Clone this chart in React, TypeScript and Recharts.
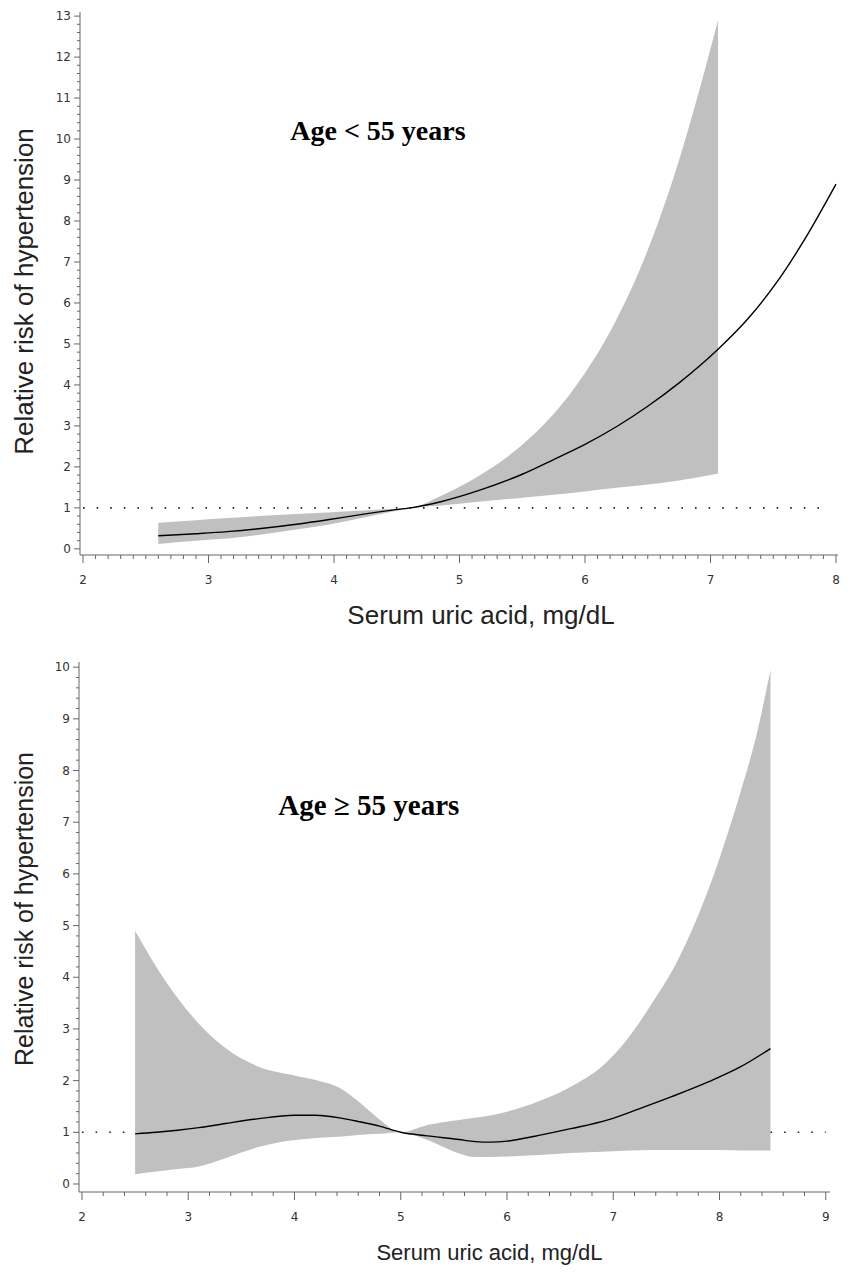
import { ComposedChart, Area, Line, XAxis, YAxis, ReferenceLine, ReferenceDot, Label } from 'recharts';

// Age < 55 years
const youngBandX = [2.6, 2.9, 3.15, 3.4, 3.7, 3.95, 4.2, 4.45, 4.61, 4.85, 5.15, 5.5, 5.75, 6.0, 6.25, 6.5, 6.75, 7.06];
const youngLow = [0.12, 0.2, 0.25, 0.34, 0.47, 0.59, 0.74, 0.9, 1.0, 1.06, 1.15, 1.25, 1.32, 1.4, 1.49, 1.57, 1.67, 1.84];
const youngHigh = [0.64, 0.7, 0.75, 0.8, 0.85, 0.89, 0.93, 0.97, 1.0, 1.29, 1.77, 2.54, 3.29, 4.29, 5.59, 7.29, 9.49, 12.9];
const youngLineX = [2.6, 2.9, 3.15, 3.4, 3.7, 3.95, 4.2, 4.45, 4.61, 4.85, 5.15, 5.5, 5.75, 6.0, 6.25, 6.5, 6.75, 7.06, 7.3, 7.55, 7.75, 8.0];
const youngLineY = [0.32, 0.37, 0.42, 0.49, 0.6, 0.71, 0.83, 0.94, 1.0, 1.15, 1.42, 1.82, 2.18, 2.55, 2.98, 3.48, 4.05, 4.87, 5.62, 6.6, 7.55, 8.9];

// Age >= 55 years
const oldBandX = [2.5, 2.7, 2.9, 3.1, 3.35, 3.65, 4.0, 4.2, 4.45, 4.6, 4.8, 5.0, 5.25, 5.55, 5.7, 6.0, 6.3, 6.6, 6.95, 7.15, 7.35, 7.6, 7.8, 8.0, 8.2, 8.35, 8.48];
const oldLow = [0.19, 0.24, 0.29, 0.34, 0.5, 0.71, 0.85, 0.89, 0.92, 0.95, 0.97, 1.0, 0.85, 0.59, 0.52, 0.53, 0.56, 0.6, 0.63, 0.65, 0.66, 0.66, 0.66, 0.66, 0.65, 0.65, 0.65];
const oldHigh = [4.9, 4.2, 3.6, 3.1, 2.63, 2.28, 2.1, 2.01, 1.83, 1.6, 1.25, 1.0, 1.14, 1.24, 1.28, 1.4, 1.6, 1.88, 2.38, 2.85, 3.45, 4.3, 5.2, 6.3, 7.6, 8.7, 9.95];
const oldLineX = [2.5, 2.7, 2.9, 3.1, 3.35, 3.65, 4.0, 4.2, 4.45, 4.6, 4.8, 5.0, 5.25, 5.55, 5.7, 5.85, 6.0, 6.15, 6.3, 6.6, 6.95, 7.25, 7.55, 7.9, 8.2, 8.48];
const oldLineY = [0.97, 1.0, 1.04, 1.09, 1.17, 1.26, 1.33, 1.33, 1.27, 1.21, 1.12, 1.0, 0.93, 0.86, 0.82, 0.81, 0.83, 0.88, 0.94, 1.07, 1.24, 1.46, 1.69, 1.98, 2.27, 2.62];

const youngXTicks = [2, 3, 4, 5, 6, 7, 8];
const youngYTicks = [0, 1, 2, 3, 4, 5, 6, 7, 8, 9, 10, 11, 12, 13];
const oldXTicks = [2, 3, 4, 5, 6, 7, 8, 9];
const oldYTicks = [0, 1, 2, 3, 4, 5, 6, 7, 8, 9, 10];

const yTitle = 'Relative risk of hypertension';
const xTitle = 'Serum uric acid, mg/dL';

// major ticks get a label, minor ones only a short mark
const withMinor = (major: number[], step: number) => {
  const out: number[] = [];
  const n = Math.round(1 / step);
  for (let i = 0; i < major.length - 1; i++) {
    for (let k = 0; k < n; k++) out.push(+(major[i] + k * step).toFixed(2));
  }
  out.push(major[major.length - 1]);
  return out;
};

const isMajor = (v: number) => Math.abs(v - Math.round(v)) < 1e-6;
const tickFont = { fontFamily: '"DejaVu Sans", sans-serif', fontSize: 12, fill: '#333' };
const titleFont = '"Liberation Sans", Arial, sans-serif';

const XTick = (props: any) => {
  const { x, y, payload } = props;
  const major = isMajor(payload.value);
  return (
    <g>
      <line x1={x} y1={y} x2={x} y2={y + (major ? 8 : 4)} stroke="#666" strokeWidth={1} />
      {major && (
        <text x={x} y={y + 29} textAnchor="middle" {...tickFont}>
          {Math.round(payload.value)}
        </text>
      )}
    </g>
  );
};

const YTick = (props: any) => {
  const { x, y, payload } = props;
  const major = isMajor(payload.value);
  return (
    <g>
      <line x1={x} y1={y} x2={x - (major ? 6 : 3)} y2={y} stroke="#666" strokeWidth={1} />
      {major && (
        <text x={x - 9} y={y + 4} textAnchor="end" {...tickFont}>
          {Math.round(payload.value)}
        </text>
      )}
    </g>
  );
};

const YTitle = ({ viewBox, shift, size }: any) => {
  const cx = 24;
  const cy = viewBox.y + viewBox.height / 2 + shift;
  return (
    <text x={cx} y={cy} transform={`rotate(-90 ${cx} ${cy})`} textAnchor="middle" dominantBaseline="central"
      fontFamily={titleFont} fontSize={size} fill="#222">
      {yTitle}
    </text>
  );
};

const XTitle = ({ viewBox, shift, size }: any) => (
  <text x={viewBox.x + viewBox.width / 2 + shift} y={viewBox.y + 60} textAnchor="middle" dominantBaseline="central"
    fontFamily={titleFont} fontSize={size} fill="#222">
    {xTitle}
  </text>
);

const Note = (text: string, size: number) => (props: any) => {
  const { viewBox } = props;
  return (
    <text x={viewBox.x + viewBox.width / 2} y={viewBox.y + viewBox.height / 2} textAnchor="middle" dominantBaseline="central"
      fontFamily='"Liberation Serif", "Times New Roman", serif' fontWeight="bold" fontSize={size} fill="#000">
      {text}
    </text>
  );
};

const band = (xs: number[], lo: number[], hi: number[]) => xs.map((x, i) => ({ x, range: [lo[i], hi[i]] }));
const curve = (xs: number[], ys: number[]) => xs.map((x, i) => ({ x, y: ys[i] }));

const dotted = { stroke: '#222', strokeWidth: 1.6, strokeDasharray: '1.6 12' };

export default function App() {
  return (
    <div style={{ position: 'absolute', left: 0, top: 0, width: 851, height: 1282, background: '#fff' }}>
      <ComposedChart width={851} height={640} margin={{ top: 12, right: 13, bottom: 0, left: 0 }}>
        <XAxis type="number" dataKey="x" domain={[1.976, 8.016]} ticks={withMinor(youngXTicks, 0.1)} interval={0}
          tick={<XTick />} tickSize={0} tickMargin={0} tickLine={false} axisLine={{ stroke: '#666' }} height={85} allowDataOverflow>
          <Label content={<XTitle shift={22} size={26} />} />
        </XAxis>
        <YAxis type="number" domain={[-0.15, 13.1]} ticks={withMinor(youngYTicks, 0.2)} interval={0}
          tick={<YTick />} tickSize={0} tickMargin={0} tickLine={false} axisLine={{ stroke: '#666' }} width={80} allowDataOverflow>
          <Label content={<YTitle shift={8} size={26} />} />
        </YAxis>
        <ReferenceLine segment={[{ x: 2, y: 1 }, { x: 7.93, y: 1 }]} {...dotted} />
        <Area data={band(youngBandX, youngLow, youngHigh)} dataKey="range" type="monotone" fill="#c0c0c0" fillOpacity={1} stroke="none" isAnimationActive={false} />
        <Line data={curve(youngLineX, youngLineY)} dataKey="y" type="monotone" stroke="#000" strokeWidth={1.4} dot={false} isAnimationActive={false} />
        <ReferenceDot x={4.35} y={10.2} r={0} fill="none" stroke="none" label={Note('Age < 55 years', 28)} />
      </ComposedChart>
      <ComposedChart width={851} height={642} margin={{ top: 22, right: 21, bottom: 0, left: 0 }}>
        <XAxis type="number" dataKey="x" domain={[1.972, 9.04]} ticks={withMinor(oldXTicks, 0.2)} interval={0}
          tick={<XTick />} tickSize={0} tickMargin={0} tickLine={false} axisLine={{ stroke: '#666' }} height={90} allowDataOverflow>
          <Label content={<XTitle shift={35} size={22} />} />
        </XAxis>
        <YAxis type="number" domain={[-0.155, 10.1]} ticks={withMinor(oldYTicks, 0.2)} interval={0}
          tick={<YTick />} tickSize={0} tickMargin={0} tickLine={false} axisLine={{ stroke: '#666' }} width={79} allowDataOverflow>
          <Label content={<YTitle shift={-18} size={25} />} />
        </YAxis>
        <ReferenceLine segment={[{ x: 2, y: 1 }, { x: 2.5, y: 1 }]} {...dotted} />
        <ReferenceLine segment={[{ x: 8.48, y: 1 }, { x: 9.0, y: 1 }]} {...dotted} />
        <Area data={band(oldBandX, oldLow, oldHigh)} dataKey="range" type="monotone" fill="#c0c0c0" fillOpacity={1} stroke="none" isAnimationActive={false} />
        <Line data={curve(oldLineX, oldLineY)} dataKey="y" type="monotone" stroke="#000" strokeWidth={1.4} dot={false} isAnimationActive={false} />
        <ReferenceDot x={4.7} y={7.34} r={0} fill="none" stroke="none" label={Note('Age \u2265 55 years', 29)} />
      </ComposedChart>
    </div>
  );
}
